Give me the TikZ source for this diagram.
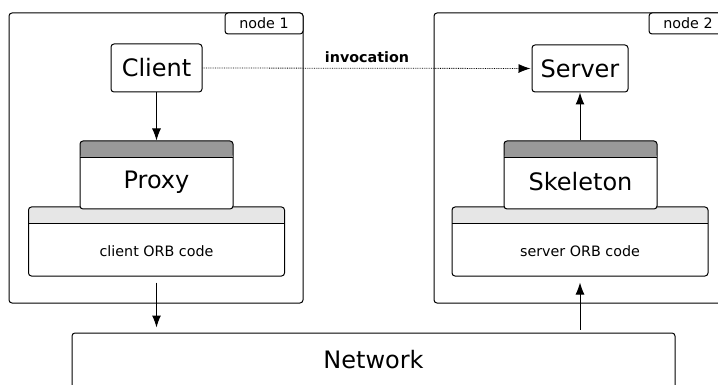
\documentclass[tikz,border=0pt]{standalone}
\usepackage{fontspec}
\setmainfont{DejaVu Sans}
\usetikzlibrary{arrows.meta}
\begin{document}
\begin{tikzpicture}[x=1pt,y=-1pt,
  frame/.style={draw, line width=1pt, rounded corners=3pt, inner sep=0pt},
  bigtxt/.style={inner sep=0pt, font=\fontsize{24pt}{28pt}\selectfont},
  smalltxt/.style={inner sep=0pt, font=\fontsize{14.3pt}{17pt}\selectfont},
  hdr/.style={path picture={
      \fill[#1] (path picture bounding box.north west) rectangle ([yshift=-16.5pt]path picture bounding box.north east);
      \draw[line width=1pt] ([yshift=-16.5pt]path picture bounding box.north west) -- ([yshift=-16.5pt]path picture bounding box.north east);}},
  tip/.style={-{Latex[length=12pt,width=9pt]}},
  arr/.style={line width=1pt, tip},
]
\useasboundingbox (0,0) rectangle (718,385);
\clip (0,0) rectangle (718,385);
\definecolor{hdark}{HTML}{999999}
\definecolor{hlight}{HTML}{E6E6E6}
% containers
\node[frame, minimum width=294pt, minimum height=290pt] (n1) at (156,158) {};
\node[frame, minimum width=294pt, minimum height=290pt] (n2) at (581,158) {};
\node[frame, fill=white, minimum width=78pt, minimum height=21pt, smalltxt] (t1) at (264,23.5) {node 1};
\node[frame, fill=white, minimum width=78pt, minimum height=21pt, smalltxt] (t2) at (688,23.5) {node 2};
% client side
\node[frame, minimum width=91pt, minimum height=48pt, bigtxt] (client) at (156.5,68) {Client};
\node[frame, fill=white, minimum width=256pt, minimum height=69pt, hdr=hlight] (corb) at (156.5,241.5) {};
\node[smalltxt] (corbt) at (156.5,251) {client ORB code};
\node[frame, fill=white, minimum width=153pt, minimum height=68pt, hdr=hdark] (proxy) at (156.5,175) {};
\node[bigtxt] (proxyt) at (156.5,182) {Proxy};
% server side
\node[frame, minimum width=96pt, minimum height=47pt, bigtxt] (server) at (580,68.5) {Server};
\node[frame, fill=white, minimum width=256pt, minimum height=69pt, hdr=hlight] (sorb) at (580,241.5) {};
\node[smalltxt] (sorbt) at (580,251) {server ORB code};
\node[frame, fill=white, minimum width=153pt, minimum height=68pt, hdr=hdark] (skel) at (580.5,175) {};
\node[bigtxt] (skelt) at (580.5,182) {Skeleton};
% network
\node[frame, minimum width=603pt, minimum height=90pt] (net) at (373.5,378) {};
\node[bigtxt] (nett) at (373.5,360) {Network};
% connectors
\draw[arr] (client.south) -- (proxy.north);
\draw[arr] (skel.north -| server.south) -- (server.south);
\draw[arr, shorten <=6pt, shorten >=5pt] (corb.south) -- (corb.south |- net.north);
\draw[arr, shorten <=3pt, shorten >=6pt] (sorb.south |- net.north) -- (sorb.south);
\draw[line width=0.8pt, densely dotted, tip, shorten >=1pt] (client.east) -- (server.west)
  node[pos=0.5, above=5pt, inner sep=0pt, font=\fontsize{14.3pt}{17pt}\selectfont\bfseries] (inv) {invocation};
\end{tikzpicture}
\end{document}
